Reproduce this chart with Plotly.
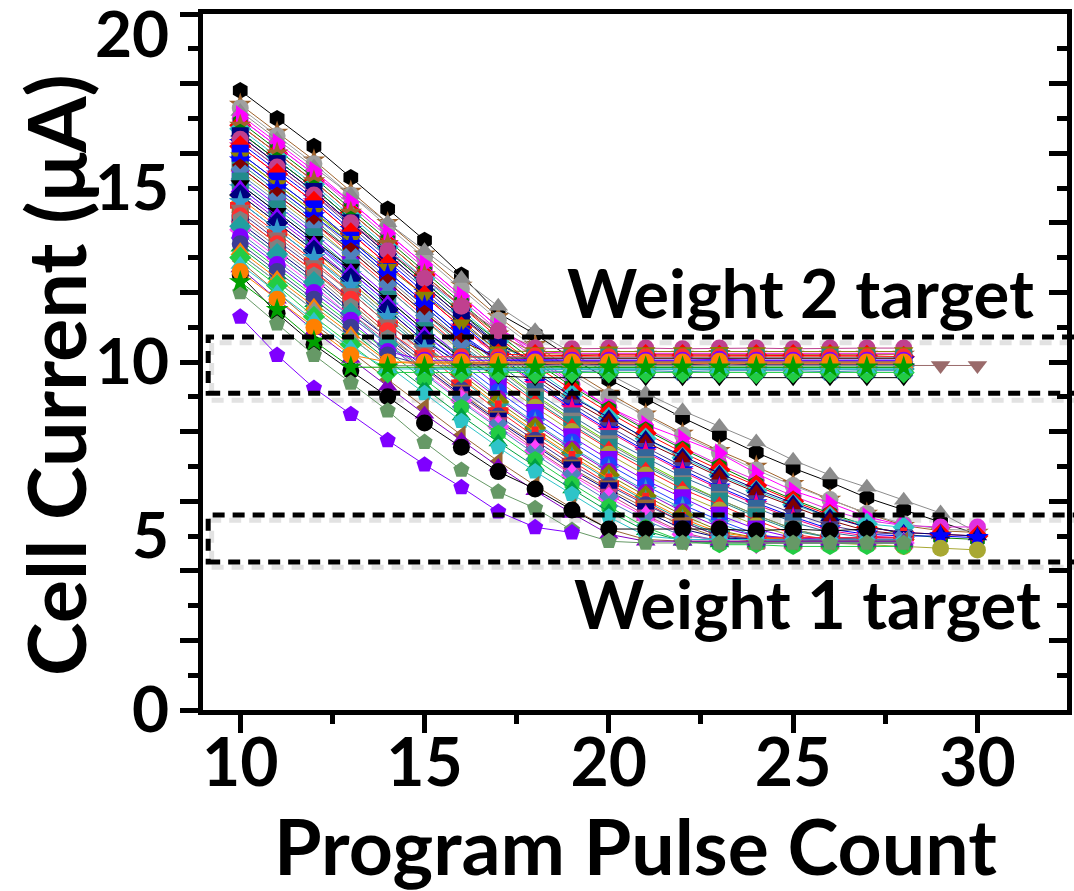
import plotly.graph_objects as go

pulses = list(range(10, 31))

# ---- Weight 1 target series (settle near 5 uA) ----
w1_black_hex = [17.8, 17.0, 16.2, 15.3, 14.4, 13.5, 12.5, 11.4, 10.8, 10.1, 9.5, 8.95, 8.4, 7.9, 7.4, 6.95, 6.55, 6.1, 5.75, 5.4, 5.05]
w1_brown_star = [17.4, 16.6, 15.8, 14.9, 14.0, 13.1, 12.2, 11.3, 10.5, 9.75, 9.1, 8.5, 7.95, 7.45, 7.0, 6.5, 6.05, 5.65, 5.3, 5.15, 5.1]
w1_gray_ball = [17.3, 16.5, 15.7, 14.8, 13.9, 13.0, 12.1, 11.2, 10.4, 9.65, 9.0, 8.45, 7.9, 7.4, 6.9, 6.45, 6.05, 5.65, 5.35, 5.2, 5.15]
w1_gray_tri = [17.2, 16.4, 15.6, 14.8, 14.0, 13.2, 12.4, 11.6, 10.9, 10.25, 9.65, 9.1, 8.6, 8.15, 7.7, 7.18, 6.75, 6.4, 6.03, 5.66, 5.1]
w1_magenta_ball = [17.0, 16.2, 15.4, 14.5, 13.6, 12.7, 11.8, 10.9, 10.1, 9.35, 8.7, 8.1, 7.55, 7.05, 6.6, 6.15, 5.75, 5.45, 5.3, 5.26, 5.26]
w1_magenta_tri = [17.1, 16.3, 15.5, 14.6, 13.7, 12.8, 11.9, 11.0, 10.2, 9.4, 8.7, 8.2, 7.8, 7.38, 6.8, 6.3, 5.95, 5.55, 5.3]
w1_green_hex = [16.9, 16.1, 15.3, 14.4, 13.5, 12.6, 11.7, 10.8, 10.0, 9.3, 8.65, 8.05, 7.5, 7.0, 6.5, 6.05, 5.65, 5.3, 5.05, 4.95, 4.9]
w1_red_dia = [16.8, 16.0, 15.2, 14.3, 13.4, 12.5, 11.6, 10.7, 9.9, 9.2, 8.55, 7.95, 7.4, 6.9, 6.45, 6.0, 5.6, 5.25, 5.1, 5.05, 5.0]
w1_cyan_dia = [16.7, 15.9, 15.1, 14.2, 13.3, 12.4, 11.5, 10.6, 9.8, 9.05, 8.4, 7.8, 7.25, 6.75, 6.3, 5.9, 5.55, 5.35, 5.25]
w1_navy_tri = [16.6, 15.8, 15.0, 14.1, 13.2, 12.3, 11.4, 10.5, 9.7, 9.0, 8.4, 7.8, 7.3, 6.8, 6.35, 5.95, 5.55, 5.25, 5.1, 5.05, 5.0]
w1_darkred_tri = [16.5, 15.7, 14.9, 14.0, 13.1, 12.2, 11.3, 10.4, 9.6, 8.9, 8.3, 7.7, 7.2, 6.7, 6.25, 5.85, 5.45, 5.15, 5.05]
w1_slate_tri = [16.4, 15.6, 14.8, 13.9, 13.0, 12.1, 11.2, 10.3, 9.5, 8.8, 8.15, 7.55, 7.0, 6.5, 6.05, 5.65, 5.3, 5.1, 5.05]
w1_blue_star = [16.3, 15.5, 14.7, 13.8, 12.9, 12.0, 11.1, 10.2, 9.4, 8.7, 8.05, 7.45, 6.9, 6.4, 5.95, 5.55, 5.2, 5.05, 5.0, 5.0, 4.95]
w1_pink_star = [16.2, 15.4, 14.6, 13.7, 12.8, 11.9, 11.0, 10.15, 9.35, 8.65, 8.0, 7.4, 6.85, 6.35, 5.9, 5.5, 5.15, 5.0, 4.95]
w1_steel_sq = [16.0, 15.2, 14.4, 13.5, 12.6, 11.7, 10.8, 9.95, 9.15, 8.45, 7.8, 7.25, 6.7, 6.25, 5.8, 5.4, 5.1, 4.95, 4.95]
w1_lime_tri = [15.9, 15.1, 14.3, 13.4, 12.5, 11.6, 10.7, 9.85, 9.05, 8.35, 7.7, 7.1, 6.55, 6.05, 5.6, 5.2, 4.95, 4.85, 4.85]
w1_gray_sq = [15.8, 15.0, 14.2, 13.3, 12.4, 11.5, 10.6, 9.8, 9.0, 8.3, 7.65, 7.05, 6.5, 6.05, 5.6, 5.2, 4.95, 4.9, 4.9]
w1_teal_sq = [15.7, 14.9, 14.1, 13.2, 12.3, 11.4, 10.5, 9.7, 8.9, 8.2, 7.55, 7.0, 6.45, 6.0, 5.55, 5.15, 4.95, 4.9, 4.9]
w1_red_tri = [15.6, 14.8, 14.0, 13.1, 12.2, 11.3, 10.4, 9.6, 8.85, 8.15, 7.5, 6.9, 6.35, 5.9, 5.45, 5.05, 4.9, 4.85, 4.85]
w1_olive_ball = [15.5, 14.7, 13.9, 13.0, 12.1, 11.2, 10.3, 9.45, 8.7, 8.0, 7.35, 6.75, 6.2, 5.75, 5.3, 5.0, 4.8, 4.75, 4.7, 4.65, 4.6]
w1_purple_sq = [15.3, 14.5, 13.7, 12.8, 11.9, 11.0, 10.15, 9.3, 8.55, 7.85, 7.2, 6.6, 6.1, 5.6, 5.2, 4.95, 4.9, 4.9, 4.9]
w1_blue_ball = [15.1, 14.3, 13.5, 12.6, 11.7, 10.8, 9.95, 9.15, 8.4, 7.7, 7.05, 6.45, 5.9, 5.45, 5.05, 4.9, 4.9, 4.9, 4.9]
w1_sky_star = [15.0, 14.2, 13.4, 12.5, 11.6, 10.7, 9.85, 9.0, 8.25, 7.55, 6.9, 6.3, 5.8, 5.35, 5.0, 4.9, 4.85, 4.85, 4.85]
w1_violet_ball = [14.9, 14.1, 13.3, 12.4, 11.5, 10.6, 9.75, 8.95, 8.2, 7.5, 6.85, 6.25, 5.7, 5.25, 5.0, 4.95, 4.95, 4.95, 4.95]
w1_olive_dia = [14.8, 14.0, 13.2, 12.3, 11.4, 10.5, 9.65, 8.85, 8.1, 7.4, 6.75, 6.15, 5.6, 5.15, 4.95, 4.9, 4.9, 4.9, 4.9]
w1_orange_tri = [14.7, 13.9, 13.1, 12.2, 11.3, 10.4, 9.55, 8.75, 8.0, 7.3, 6.65, 6.05, 5.5, 5.1, 4.95, 4.9, 4.9, 4.9, 4.9]
w1_teal_star = [14.6, 13.8, 13.0, 12.1, 11.2, 10.35, 9.5, 8.7, 7.95, 7.25, 6.6, 6.0, 5.45, 5.05, 4.9, 4.85, 4.85, 4.85, 4.85]
w1_red_cross = [14.5, 13.7, 12.9, 12.0, 11.1, 10.25, 9.4, 8.6, 7.85, 7.15, 6.5, 5.95, 5.4, 5.0, 4.95, 4.95, 4.95, 4.95, 4.95]
w1_slate_ball = [14.3, 13.5, 12.7, 11.8, 10.9, 10.05, 9.2, 8.45, 7.75, 7.05, 6.45, 5.9, 5.4, 5.0, 4.9, 4.9, 4.85, 4.85, 4.85]
w1_brown_sq = [14.2, 13.4, 12.6, 11.7, 10.8, 9.95, 9.1, 8.35, 7.65, 6.95, 6.35, 5.8, 5.3, 4.95, 4.85, 4.85, 4.85, 4.85, 4.85]
w1_navy_sq = [14.0, 13.2, 12.4, 11.5, 10.7, 9.85, 9.05, 8.3, 7.6, 6.9, 6.3, 5.7, 5.2, 4.95, 4.9, 4.9, 4.9, 4.9, 4.9]
w1_pink_hexagram = [13.9, 13.1, 12.3, 11.4, 10.6, 9.8, 9.0, 8.25, 7.5, 6.8, 6.2, 5.6, 5.1, 4.85, 4.8, 4.8, 4.8, 4.8, 4.8]
w1_magenta_dia = [13.8, 13.0, 12.2, 11.3, 10.5, 9.7, 8.9, 8.15, 7.45, 6.75, 6.1, 5.55, 5.05, 4.85, 4.8, 4.8, 4.8, 4.8, 4.8]
w1_steelblue_x = [13.7, 12.9, 12.1, 11.3, 10.5, 9.65, 8.85, 8.1, 7.35, 6.65, 6.0, 5.45, 5.0, 4.9, 4.9, 4.9, 4.9, 4.9, 4.9]
w1_green_hex2 = [13.5, 12.7, 11.9, 11.1, 10.3, 9.5, 8.7, 7.95, 7.2, 6.5, 5.85, 5.25, 4.85, 4.75, 4.75, 4.7, 4.7, 4.7, 4.7]
w1_green_tri = [13.3, 12.5, 11.7, 10.9, 10.05, 9.25, 8.45, 7.7, 7.0, 6.35, 5.7, 5.15, 4.85, 4.8, 4.8, 4.8, 4.8, 4.8, 4.8]
w1_cyan_pent = [13.1, 12.3, 11.5, 10.7, 9.9, 9.1, 8.3, 7.55, 6.85, 6.2, 5.55, 5.0, 4.9, 4.9, 4.9, 4.85, 4.85, 4.85, 4.85]
w1_brown_tri = [12.9, 12.0, 11.1, 10.3, 9.5, 8.7, 7.9, 7.15, 6.45, 5.8, 5.2, 4.9, 4.85, 4.85, 4.85, 4.85, 4.85, 4.85, 4.85]
w1_purple_tri = [12.7, 11.8, 10.9, 10.1, 9.3, 8.5, 7.75, 7.0, 6.3, 5.65, 5.05, 4.85, 4.85, 4.85, 4.85, 4.85, 4.85, 4.85, 4.85]
w1_black_ball = [12.5, 11.4, 10.5, 9.75, 9.0, 8.25, 7.55, 6.85, 6.35, 5.75, 5.2, 5.2, 5.2, 5.2, 5.15, 5.2, 5.15, 5.2]
w1_seagreen_pent = [12.0, 11.1, 10.2, 9.4, 8.6, 7.7, 6.9, 6.27, 5.8, 5.17, 4.85, 4.8, 4.8, 4.8, 4.8, 4.8, 4.8, 4.8, 4.8]
w1_purple_pent = [11.3, 10.2, 9.25, 8.5, 7.75, 7.05, 6.4, 5.7, 5.25, 5.1]

# ---- Weight 2 target series (settle near 10 uA) ----
w2_magenta_tri = [17.0, 16.2, 15.4, 14.6, 13.7, 12.8, 11.9, 11.0, 10.3, 10.25, 10.25, 10.25, 10.27, 10.25, 10.25, 10.25, 10.25, 10.25, 10.25]
w2_brown_star = [16.8, 16.0, 15.2, 14.3, 13.4, 12.5, 11.6, 10.8, 10.25, 10.22, 10.22, 10.22, 10.22, 10.24, 10.22, 10.22, 10.22, 10.22, 10.22]
w2_green_hex = [16.6, 15.8, 15.0, 14.1, 13.2, 12.3, 11.4, 10.6, 9.9, 9.85, 9.85, 9.85, 9.85, 9.85, 9.85, 9.85, 9.85, 9.85, 9.85]
w2_navy_sq = [16.5, 15.7, 14.9, 14.0, 13.1, 12.2, 11.3, 10.5, 10.02, 10.0, 10.0, 10.0, 10.02, 10.0, 10.0, 10.0, 10.0, 10.02, 10.0]
w2_pink_ball = [16.4, 15.6, 14.8, 14.0, 13.2, 12.4, 11.6, 10.9, 10.4, 10.38, 10.4, 10.4, 10.38, 10.4, 10.4, 10.38, 10.4, 10.4, 10.4]
w2_red_dia = [16.2, 15.4, 14.6, 13.7, 12.8, 11.9, 11.0, 10.22, 10.2, 10.18, 10.2, 10.2, 10.2, 10.18, 10.2, 10.2, 10.2, 10.18, 10.15]
w2_blue_sq = [16.0, 15.2, 14.4, 13.5, 12.6, 11.7, 10.8, 10.05, 10.0, 10.0, 10.02, 10.0, 10.0, 10.0, 10.02, 10.0, 10.0, 10.0, 10.0]
w2_olive_tri = [15.9, 15.1, 14.3, 13.5, 12.7, 11.9, 11.1, 10.32, 10.3, 10.3, 10.32, 10.3, 10.3, 10.31, 10.3, 10.3, 10.32, 10.3, 10.3]
w2_blue_star = [15.8, 15.0, 14.2, 13.4, 12.5, 11.6, 10.7, 10.05, 10.05, 10.05, 10.05, 10.07, 10.05, 10.05, 10.05, 10.05, 10.07, 10.05, 10.05]
w2_darkred_pent = [15.6, 14.8, 14.0, 13.2, 12.3, 11.4, 10.6, 10.12, 10.1, 10.1, 10.12, 10.1, 10.1, 10.1, 10.1, 10.12, 10.1, 10.1, 10.1]
w2_steel_x = [15.4, 14.6, 13.8, 13.0, 12.1, 11.2, 10.4, 9.75, 9.75, 9.72, 9.75, 9.75, 9.72, 9.75, 9.75, 9.75, 9.72, 9.75, 9.75]
w2_teal_sq = [15.2, 14.4, 13.6, 12.7, 11.8, 10.9, 10.15, 10.12, 10.12, 10.12, 10.14, 10.12, 10.12, 10.12, 10.12, 10.12, 10.14, 10.12, 10.12]
w2_black_tri = [15.1, 14.3, 13.5, 12.7, 11.8, 10.9, 10.1, 9.6, 9.55, 9.55, 9.55, 9.55, 9.55, 9.55, 9.55, 9.55, 9.55, 9.55, 9.55]
w2_violet_tri = [15.0, 14.2, 13.4, 12.6, 11.7, 10.8, 10.0, 9.95, 9.95, 9.95, 9.93, 9.95, 9.95, 9.95, 9.95, 9.93, 9.95, 9.95, 9.95]
w2_navy_dia = [14.8, 14.0, 13.2, 12.4, 11.5, 10.6, 9.95, 9.92, 9.92, 9.95, 9.92, 9.92, 9.92, 9.95, 9.92, 9.92, 9.92, 9.92, 9.92]
w2_sky_star = [14.6, 13.8, 13.0, 12.2, 11.3, 10.4, 9.78, 9.78, 9.78, 9.8, 9.78, 9.78, 9.78, 9.78, 9.78, 9.8, 9.78, 9.78, 9.78]
w2_rosy_tri = [14.4, 13.6, 12.8, 12.0, 11.1, 10.3, 9.9, 9.9, 9.88, 9.9, 9.9, 9.9, 9.88, 9.9, 9.9, 9.9, 9.9, 9.88, 9.9, 9.9, 9.9]
w2_red_line = [14.2, 13.4, 12.6, 11.8, 10.9, 10.15, 10.15, 10.15, 10.17, 10.15, 10.15, 10.15, 10.15, 10.15, 10.15, 10.17, 10.15, 10.15, 10.15]
w2_gray_hex = [14.1, 13.3, 12.5, 11.6, 10.7, 10.0, 9.98, 9.98, 9.98, 9.98, 9.98, 10.0, 9.98, 9.98, 9.98, 9.98, 9.98, 9.98, 9.98]
w2_teal_dia = [13.9, 13.1, 12.3, 11.4, 10.5, 9.8, 9.8, 9.8, 9.8, 9.82, 9.8, 9.8, 9.8, 9.8, 9.8, 9.82, 9.8, 9.8, 9.8]
w2_purple_ball = [13.6, 12.8, 12.0, 11.2, 10.3, 10.05, 10.05, 10.05, 10.08, 10.05, 10.05, 10.05, 10.05, 10.08, 10.05, 10.05, 10.05, 10.05, 10.05]
w2_slate_ball = [13.4, 12.6, 11.8, 11.0, 10.2, 9.9, 9.9, 9.9, 9.9, 9.9, 9.92, 9.9, 9.9, 9.9, 9.9, 9.9, 9.9, 9.92, 9.9]
w2_orange_tri = [13.2, 12.4, 11.6, 10.8, 10.0, 9.95, 9.95, 9.95, 9.95, 9.97, 9.95, 9.95, 9.95, 9.95, 9.97, 9.95, 9.95, 9.95, 9.95]
w2_gray_tri = [13.1, 12.3, 11.5, 10.7, 9.9, 9.9, 9.88, 9.9, 9.9, 9.9, 9.9, 9.88, 9.9, 9.9, 9.9, 9.9, 9.9, 9.9, 9.9]
w2_lime_dia = [13.0, 12.2, 11.3, 10.5, 9.7, 9.7, 9.7, 9.7, 9.68, 9.7, 9.7, 9.7, 9.7, 9.7, 9.68, 9.7, 9.7, 9.7, 9.7]
w2_cyan_tri = [12.8, 12.0, 11.2, 10.4, 9.8, 9.8, 9.8, 9.82, 9.8, 9.8, 9.8, 9.8, 9.82, 9.8, 9.8, 9.8, 9.8, 9.8, 9.8]
w2_orange_ball = [12.6, 11.8, 11.0, 10.2, 10.0, 10.0, 10.0, 10.02, 10.0, 10.0, 10.0, 10.0, 10.0, 10.02, 10.0, 10.0, 10.0, 10.0, 10.0]
w2_green_star = [12.3, 11.5, 10.6, 9.85, 9.85, 9.85, 9.85, 9.85, 9.85, 9.85, 9.85, 9.85, 9.85, 9.85, 9.85, 9.85, 9.85, 9.85, 9.85]

# target band limits (uA) and tick labels
w2_band = [9.1, 10.72]
w1_band = [4.25, 5.6]
w2_band_shadow = [8.9, 10.55]
w1_band_shadow = [4.1, 5.45]
y_tick_values = [0, 5, 10, 15]
y_tick_labels = ["0", "5", "10", "15"]
y_top_value = [20]
y_top_label = ["20"]
x_tick_values = [10, 15, 20, 25, 30]
x_tick_labels = ["10", "15", "20", "25", "30"]

w1_series = [w1_black_hex, w1_brown_star, w1_gray_ball, w1_gray_tri, w1_magenta_ball, w1_magenta_tri,
             w1_green_hex, w1_red_dia, w1_cyan_dia, w1_navy_tri, w1_darkred_tri, w1_slate_tri, w1_blue_star,
             w1_pink_star, w1_steel_sq, w1_lime_tri, w1_gray_sq, w1_teal_sq, w1_red_tri, w1_olive_ball,
             w1_purple_sq, w1_blue_ball, w1_sky_star, w1_violet_ball, w1_olive_dia, w1_orange_tri,
             w1_teal_star, w1_red_cross, w1_slate_ball, w1_brown_sq, w1_navy_sq, w1_pink_hexagram,
             w1_magenta_dia, w1_steelblue_x, w1_green_hex2, w1_green_tri, w1_cyan_pent, w1_brown_tri,
             w1_purple_tri, w1_black_ball, w1_seagreen_pent, w1_purple_pent]
w1_styles = [("#000000", "hexagon"), ("#a0642d", "star"), ("#a0a0a0", "circle"), ("#8c8c8c", "triangle-up"),
             ("#e030e0", "circle"), ("#ff00ff", "triangle-right"), ("#008000", "hexagon"), ("#ff0000", "diamond"),
             ("#2ec4c8", "diamond"), ("#000080", "triangle-up"), ("#800000", "triangle-up"),
             ("#483d8b", "triangle-down"), ("#0000ff", "star"), ("#ff0080", "star"), ("#336699", "square"),
             ("#66cc00", "triangle-down"), ("#808080", "square"), ("#228b8b", "square"), ("#ff2020", "triangle-up"),
             ("#a8a832", "circle"), ("#8000ff", "square"), ("#2040ff", "circle"), ("#3399cc", "star"),
             ("#9400d3", "circle"), ("#808000", "diamond"), ("#ff8000", "triangle-up"), ("#20a0a0", "star"),
             ("#ff2020", "cross"), ("#3c3c96", "circle"), ("#996633", "square"), ("#000080", "square"),
             ("#c0407f", "hexagram"), ("#ff40ff", "diamond"), ("#4f81bd", "x"), ("#22cc44", "hexagon"),
             ("#00a040", "triangle-up"), ("#2ec4c8", "pentagon"), ("#996633", "triangle-left"),
             ("#8000c0", "triangle-up"), ("#000000", "circle"), ("#669966", "pentagon"), ("#7f00ff", "pentagon")]

w2_series = [w2_magenta_tri, w2_brown_star, w2_green_hex, w2_navy_sq, w2_pink_ball, w2_red_dia, w2_blue_sq,
             w2_olive_tri, w2_blue_star, w2_darkred_pent, w2_steel_x, w2_teal_sq, w2_black_tri, w2_violet_tri,
             w2_navy_dia, w2_sky_star, w2_rosy_tri, w2_red_line, w2_gray_hex, w2_teal_dia, w2_purple_ball,
             w2_slate_ball, w2_orange_tri, w2_gray_tri, w2_lime_dia, w2_cyan_tri, w2_orange_ball, w2_green_star]
w2_styles = [("#ff00ff", "triangle-right"), ("#a0642d", "star"), ("#008000", "hexagon"), ("#000080", "square"),
             ("#c0408f", "circle"), ("#ff0000", "diamond"), ("#0000ff", "square"), ("#8b8000", "triangle-down"),
             ("#0000ff", "star"), ("#800000", "pentagon"), ("#4f81bd", "x"), ("#228b8b", "square"),
             ("#000000", "triangle-down"), ("#8000ff", "triangle-up"), ("#000080", "diamond"),
             ("#3399cc", "star"), ("#9a6a6a", "triangle-down"), ("#ff3030", "circle"), ("#808080", "hexagon"),
             ("#20a0a0", "diamond"), ("#8000ff", "circle"), ("#3c3c96", "circle"), ("#ff8000", "triangle-up"),
             ("#909090", "triangle-up"), ("#22cc44", "diamond"), ("#2ec4c8", "triangle-up"),
             ("#ff8000", "circle"), ("#00a000", "star")]

FONT = "Lato"
fig = go.Figure()

for values, (color, symbol) in list(zip(w1_series, w1_styles)) + list(zip(w2_series, w2_styles)):
    fig.add_trace(go.Scatter(
        x=pulses[:len(values)], y=values, mode="lines+markers",
        line=dict(color=color, width=1),
        marker=dict(color=color, symbol=symbol, size=17, line=dict(width=0)),
        showlegend=False, hoverinfo="skip"))

# helper traces so the label axes and the right tick axis are drawn
for ax in ("y2", "y3", "y4"):
    fig.add_trace(go.Scatter(x=[10], y=[0], yaxis=ax, mode="markers", marker=dict(opacity=0),
                             showlegend=False, hoverinfo="skip"))

# target bands: light-grey shadow box + black dashed box
for lo, hi in (w2_band_shadow, w1_band_shadow):
    fig.add_shape(type="rect", xref="paper", yref="y", x0=0.01, x1=1.03, y0=lo, y1=hi,
                  line=dict(color="#e2e2e2", width=5, dash="12px,8px"), layer="below")
for lo, hi in (w2_band, w1_band):
    fig.add_shape(type="rect", xref="paper", yref="y", x0=0.006, x1=1.03, y0=lo, y1=hi,
                  line=dict(color="black", width=5, dash="12px,8px"), layer="above")

x_tick_font = dict(family=FONT, size=66, color="black", weight="bold")
y_tick_font = dict(family=FONT, size=64, color="black", weight="bold")
label_axis = dict(overlaying="y", side="left", anchor="x", range=[0, 20], tickmode="array",
                  ticks="outside", ticklen=20, tickcolor="rgba(0,0,0,0)", tickfont=y_tick_font,
                  showline=False, showgrid=False, zeroline=False, ticklabeloverflow="allow",
                  automargin=False)
fig.update_layout(
    width=1074, height=891,
    margin=dict(l=203, r=7, t=14, b=181, autoexpand=False),
    paper_bgcolor="white", plot_bgcolor="white",
    font=dict(family=FONT, color="black"),
    xaxis=dict(range=[8.99, 32.43], tickmode="array", tickvals=x_tick_values, ticktext=x_tick_labels,
               ticks="outside", ticklen=18, tickwidth=5, tickcolor="black", tickfont=x_tick_font,
               ticklabelstandoff=-26, automargin=False,
               showline=True, linewidth=5, linecolor="black", mirror=True,
               showgrid=False, zeroline=False,
               minor=dict(tickmode="array", tickvals=[12.5, 17.5, 22.5, 27.5, 32.5], ticks="outside",
                          ticklen=9, tickwidth=5, tickcolor="black", showgrid=False)),
    yaxis=dict(range=[0, 20], tickmode="linear", tick0=0, dtick=2, ticks="outside", ticklen=18,
               tickwidth=5, tickcolor="black", showticklabels=False, automargin=False,
               showline=True, linewidth=5, linecolor="black", mirror=True,
               showgrid=False, zeroline=False,
               minor=dict(tickmode="linear", tick0=0, dtick=1, ticks="outside", ticklen=10,
                          tickwidth=5, tickcolor="black", showgrid=False)),
    yaxis2=dict(label_axis, tickvals=y_tick_values, ticktext=y_tick_labels),
    yaxis4=dict(label_axis, tickvals=y_top_value, ticktext=y_top_label, ticklabelshift=21),
    yaxis3=dict(overlaying="y", side="right", anchor="x", range=[0, 20], tickmode="linear", tick0=0,
                dtick=2, ticks="inside", ticklen=18, tickwidth=5, tickcolor="black", automargin=False,
                showticklabels=False, showline=False, showgrid=False, zeroline=False,
                minor=dict(tickmode="linear", tick0=0, dtick=1, ticks="inside", ticklen=10,
                           tickwidth=5, tickcolor="black", showgrid=False)),
    annotations=[
        dict(text="Program Pulse Count", xref="paper", yref="paper", x=0.5, y=-0.194,
             showarrow=False, xanchor="center", yanchor="middle",
             font=dict(family=FONT, size=77, color="black", weight="bold")),
        dict(text="Cell Current (μA)", xref="paper", yref="paper", x=-0.172, y=0.482,
             showarrow=False, xanchor="center", yanchor="middle", textangle=-90,
             font=dict(family=FONT, size=81, color="black", weight="bold")),
        dict(text="Weight 2 target", xref="x", yref="y", x=25.2, y=12.0,
             showarrow=False, xanchor="center", yanchor="middle",
             font=dict(family=FONT, size=67, color="black", weight="bold")),
        dict(text="Weight 1 target", xref="x", yref="y", x=25.4, y=3.07,
             showarrow=False, xanchor="center", yanchor="middle",
             font=dict(family=FONT, size=67, color="black", weight="bold")),
    ],
)

fig.write_html("out.html")
